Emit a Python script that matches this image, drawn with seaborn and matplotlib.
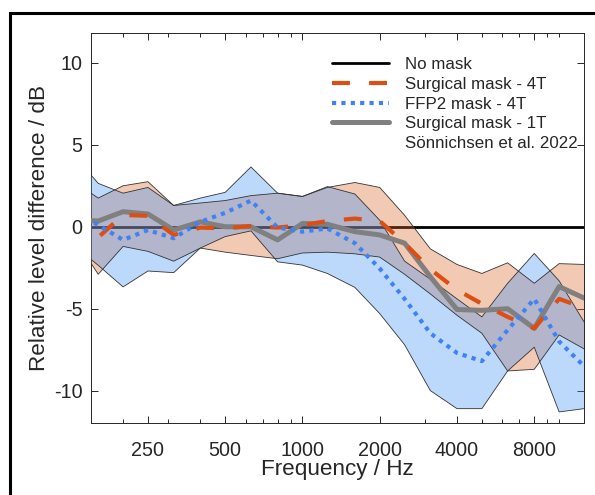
import matplotlib
matplotlib.use("Agg")
import matplotlib.pyplot as plt
from matplotlib.lines import Line2D
from matplotlib.ticker import FixedLocator, NullFormatter
import pandas as pd
import seaborn as sns

# Third-octave band centre frequencies (Hz)
freq_hz = [125, 160, 200, 250, 315, 400, 500, 630, 800, 1000, 1250, 1600,
           2000, 2500, 3150, 4000, 5000, 6300, 8000, 10000, 12500]

# Level difference relative to no mask (dB)
no_mask = [0.0] * len(freq_hz)

surgical_4t_mean = [0.6, -0.65, 0.72, 0.67, -0.5, -0.05, -0.1, 0.05, -0.05, 0.1, 0.35, 0.5,
                    0.35, -1.0, -2.6, -3.85, -4.7, -5.5, -6.2, -4.4, -4.95]
surgical_4t_upper = [2.9, 1.75, 2.5, 2.75, 1.3, 1.45, 1.6, 1.9, 2.05, 1.85, 2.4, 2.7,
                     2.4, 0.7, -1.35, -2.3, -2.85, -2.2, -3.45, -2.25, -2.3]
surgical_4t_lower = [-0.3, -2.9, -1.2, -1.5, -2.1, -1.3, -1.55, -1.75, -1.95, -1.6, -1.55, -1.65,
                     -1.85, -2.9, -4.1, -5.4, -6.5, -8.8, -8.7, -6.6, -7.45]

ffp2_4t_mean = [1.2, 0.1, -0.8, -0.2, -0.7, 0.3, 0.85, 1.6, -0.05, -0.3, -0.1, -1.0,
                -2.55, -4.4, -6.5, -7.7, -8.2, -6.3, -4.4, -7.0, -8.5]
ffp2_4t_upper = [4.6, 2.65, 2.05, 2.4, 1.3, 1.75, 2.1, 3.65, 2.05, 1.85, 2.45, 2.0,
                 0.4, -2.1, -3.2, -4.4, -5.5, -3.45, -1.63, -3.3, -5.8]
ffp2_4t_lower = [-1.0, -2.35, -3.67, -2.7, -2.8, -1.3, -0.6, -0.25, -2.14, -2.34, -2.85, -3.7,
                 -5.3, -7.2, -10.0, -11.1, -11.1, -8.8, -7.35, -11.3, -11.1]

surgical_1t_mean = [0.45, 0.35, 0.92, 0.78, -0.2, 0.3, 0.0, 0.0, -0.8, 0.2, 0.15, -0.3,
                    -0.5, -1.0, -3.05, -5.05, -5.1, -5.0, -6.2, -3.65, -4.35]

series_labels = ["No mask", "Surgical mask - 4T", "FFP2 mask - 4T", "Surgical mask - 1T",
                 "Sönnichsen et al. 2022"]

xtick_values = [250, 500, 1000, 2000, 4000, 8000]
xtick_labels = ["250", "500", "1000", "2000", "4000", "8000"]
xminor_values = [200, 300, 400, 600, 700, 800, 900, 3000, 5000, 6000, 7000, 9000, 10000]
ytick_values = [-10, -5, 0, 5, 10]
ytick_labels = ["-10", "-5", "0", "5", "10"]

df = pd.DataFrame({
    "freq": freq_hz,
    "none": no_mask,
    "s4": surgical_4t_mean,
    "s4_hi": surgical_4t_upper,
    "s4_lo": surgical_4t_lower,
    "f4": ffp2_4t_mean,
    "f4_hi": ffp2_4t_upper,
    "f4_lo": ffp2_4t_lower,
    "s1": surgical_1t_mean,
})

sns.set_style("ticks")
plt.rcParams["font.family"] = ["Liberation Sans", "DejaVu Sans"]

C_TXT = "#262626"
C_ORANGE = "#DD4E12"
C_BLUE = "#3F82F5"
C_GRAY = "#808080"
FILL_ORANGE = (218 / 255, 104 / 255, 41 / 255)
FILL_BLUE = (64 / 255, 144 / 255, 246 / 255)

W, H = 595, 495
fig = plt.figure(figsize=(W / 100, H / 100), dpi=100)
ax = fig.add_axes([91 / W, (H - 423.4) / H, (584 - 91) / W, (423.4 - 33.4) / H])

# reference line first so the shaded bands tint it
sns.lineplot(data=df, x="freq", y="none", ax=ax, color="black", linewidth=2.0, zorder=2)

ax.fill_between(df["freq"], df["s4_lo"], df["s4_hi"], facecolor=FILL_ORANGE, alpha=0.35,
                edgecolor="none", zorder=3)
ax.fill_between(df["freq"], df["f4_lo"], df["f4_hi"], facecolor=FILL_BLUE, alpha=0.35,
                edgecolor="none", zorder=3)
for col in ["s4_hi", "s4_lo", "f4_hi", "f4_lo"]:
    ax.plot(df["freq"], df[col], color="#333333", linewidth=0.6, zorder=3.5)

sns.lineplot(data=df, x="freq", y="s1", ax=ax, color=C_GRAY, linewidth=3.6, zorder=4)
sns.lineplot(data=df, x="freq", y="s4", ax=ax, color=C_ORANGE, linewidth=3.0, zorder=5)
ax.lines[-1].set_dashes((4.3, 4.6))
ax.lines[-1].set_dash_capstyle("butt")
sns.lineplot(data=df, x="freq", y="f4", ax=ax, color=C_BLUE, linewidth=3.0, zorder=6)
ax.lines[-1].set_dashes((1.0, 1.25))
ax.lines[-1].set_dash_capstyle("butt")

ax.set_xscale("log")
ax.set_xlim(150, 12500)
ax.set_ylim(-12, 11.8)
ax.xaxis.set_major_locator(FixedLocator(xtick_values))
ax.set_xticklabels(xtick_labels)
ax.xaxis.set_minor_locator(FixedLocator(xminor_values))
ax.xaxis.set_minor_formatter(NullFormatter())
ax.set_yticks(ytick_values)
ax.set_yticklabels(ytick_labels)

ax.tick_params(axis="both", which="both", direction="in", top=True, right=True,
               color=C_TXT, labelcolor=C_TXT, width=0.7)
ax.tick_params(axis="both", which="major", length=5, labelsize=14.2)
ax.tick_params(axis="both", which="minor", length=3)
ax.tick_params(axis="x", which="major", pad=13)
ax.tick_params(axis="y", which="major", pad=6)
for s in ax.spines.values():
    s.set_color(C_TXT)
    s.set_linewidth(0.7)

ax.set_xlabel("Frequency / Hz", fontsize=16.2, color=C_TXT, labelpad=-1)
ax.set_ylabel("Relative level difference / dB", fontsize=16.2, color=C_TXT, labelpad=3)

handles = [
    Line2D([], [], color="black", linewidth=2.0),
    Line2D([], [], color=C_ORANGE, linewidth=3.0, dashes=(4.3, 4.6), dash_capstyle="butt"),
    Line2D([], [], color=C_BLUE, linewidth=3.0, dashes=(1.0, 1.25), dash_capstyle="butt"),
    Line2D([], [], color=C_GRAY, linewidth=3.6),
    Line2D([], [], color="none", linewidth=0),
]
ax.legend(handles, series_labels, loc="upper right", bbox_to_anchor=(1.007, 0.965),
          frameon=False, fontsize=12.2, handlelength=3.4, handletextpad=0.9,
          labelspacing=0.275, borderaxespad=0.2, labelcolor=C_TXT)

# outer frame around the panel
fig.add_artist(Line2D([9.5 / W, 9.5 / W, 1.05], [-0.05, 1 - 12.5 / H, 1 - 12.5 / H],
                      transform=fig.transFigure, color="black", linewidth=2.2,
                      solid_joinstyle="miter"))

fig.savefig("out.png", dpi=100)
